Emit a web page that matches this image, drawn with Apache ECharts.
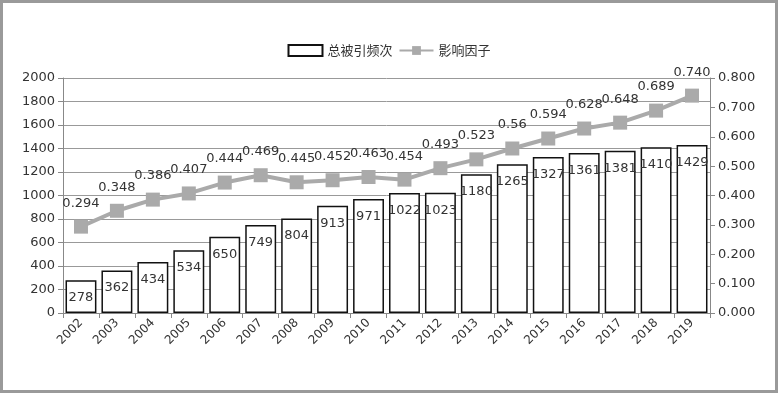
<!DOCTYPE html>
<html><head><meta charset="utf-8">
<script src="https://cdn.jsdelivr.net/npm/echarts@6/dist/echarts.min.js"></script>
<style>html,body{margin:0;padding:0;background:#fff}#c{width:778px;height:393px;box-sizing:border-box;border:3px solid #9a9a9a;background:#fff}</style>
</head><body><div id="c"></div>
<script>
const years = ['2002','2003','2004','2005','2006','2007','2008','2009','2010','2011','2012','2013','2014','2015','2016','2017','2018','2019'];
const citations = [278,362,434,534,650,749,804,913,971,1022,1023,1180,1265,1327,1361,1381,1410,1429];
const impact = [0.294,0.348,0.386,0.407,0.444,0.469,0.445,0.452,0.463,0.454,0.493,0.523,0.56,0.594,0.628,0.648,0.689,0.740];
const impactLabels = ['0.294','0.348','0.386','0.407','0.444','0.469','0.445','0.452','0.463','0.454','0.493','0.523','0.56','0.594','0.628','0.648','0.689','0.740'];
const chart = echarts.init(document.getElementById('c'), null, {renderer:'canvas'});
const font = 'DejaVu Sans';
chart.setOption({
  animation:false,
  textStyle:{fontFamily:font},
  legend:{top:36,left:'center',itemGap:6,itemWidth:34,itemHeight:11,
    textStyle:{fontFamily:'Noto Sans CJK SC',fontSize:13,color:'#333'},
    data:[{name:'总被引频次',icon:'rect'},{name:'影响因子'}]},
  grid:{left:60,right:65,top:75,bottom:77},
  xAxis:{type:'category',data:years,
    axisLine:{lineStyle:{color:'#888'}},
    axisTick:{show:true,lineStyle:{color:'#888'},length:5},
    axisLabel:{rotate:45,fontSize:12,color:'#333',margin:8,interval:0}},
  yAxis:[
    {type:'value',min:0,max:2000,interval:200,
     axisLine:{show:true,lineStyle:{color:'#888'}},
     axisTick:{show:true,lineStyle:{color:'#888'},length:5},
     axisLabel:{fontSize:13,color:'#333',margin:8,formatter:v=>String(v)},
     splitLine:{lineStyle:{color:'#999',width:1}}},
    {type:'value',min:0,max:0.8,interval:0.1,
     axisLine:{show:true,lineStyle:{color:'#888'}},
     axisTick:{show:true,lineStyle:{color:'#888'},length:5},
     axisLabel:{fontSize:13,color:'#333',margin:8,formatter:v=>v.toFixed(3)},
     splitLine:{show:false}}
  ],
  series:[
    {name:'总被引频次',type:'bar',data:citations,barCategoryGap:'14%',
     itemStyle:{color:'#fff',borderColor:'#111',borderWidth:1.5},
     label:{show:true,position:'insideTop',distance:11,fontSize:13,color:'#333'}},
    {name:'影响因子',type:'line',yAxisIndex:1,data:impact,
     symbol:'rect',symbolSize:14,
     lineStyle:{color:'#aaa',width:4},
     itemStyle:{color:'#aaa'},
     label:{show:true,position:'top',distance:10,fontSize:13,color:'#333',
       formatter:p=>impactLabels[p.dataIndex]}}
  ]
});
</script></body></html>
